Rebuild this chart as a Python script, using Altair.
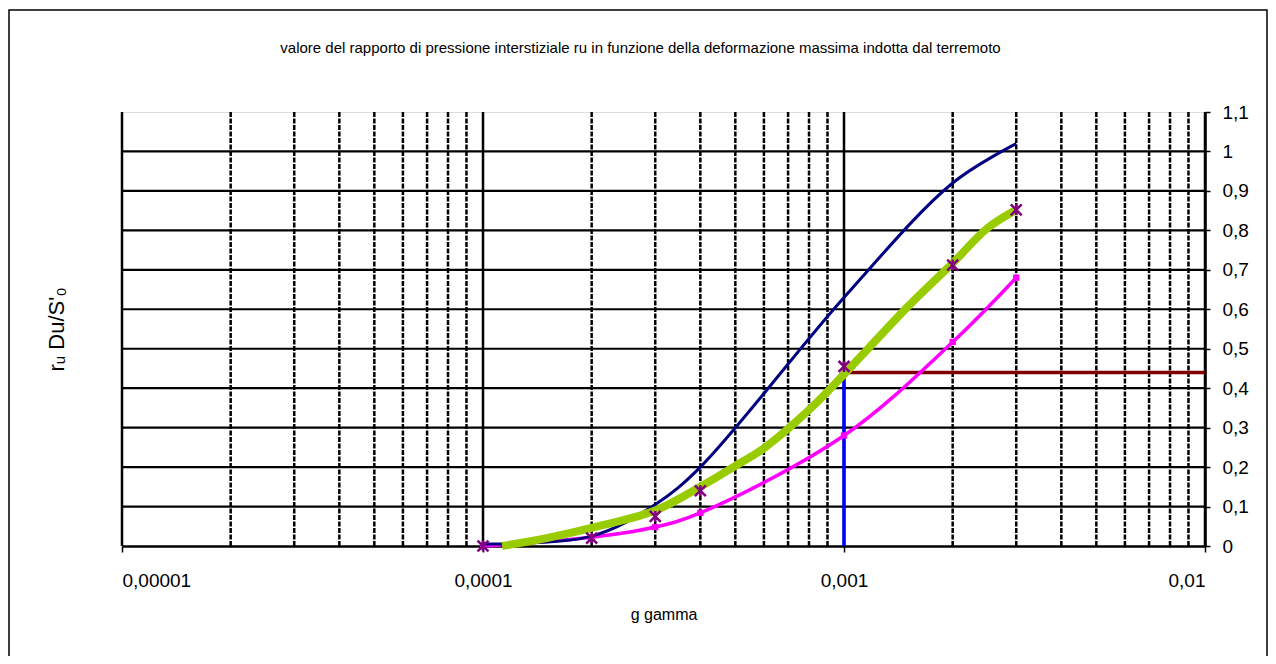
import altair as alt
import pandas as pd

# ---- data ----
x_pts = [0.0001, 0.0002, 0.0003, 0.0004, 0.001, 0.002, 0.003]
navy_y = [0.005, 0.025, 0.105, 0.2, 0.63, 0.92, 1.02]
magenta_y = [0.0, 0.022, 0.048, 0.084, 0.28, 0.517, 0.68]
star_y = [0.0, 0.02, 0.075, 0.14, 0.455, 0.712, 0.852]

green_x = [0.000113, 0.00015, 0.0002, 0.0003, 0.0004, 0.0005, 0.0006,
           0.0008, 0.001, 0.0015, 0.002, 0.0025, 0.003]
green_y = [0.0, 0.02, 0.046, 0.09, 0.15, 0.203, 0.248,
           0.345, 0.435, 0.606, 0.717, 0.806, 0.852]

gamma_sel = 0.001
ru_sel = 0.44

major_x = [0.00001, 0.0001, 0.001, 0.01]
minor_x = [d * m for d in [0.00001, 0.0001, 0.001] for m in range(2, 10)]
y_ticks = [0, 0.1, 0.2, 0.3, 0.4, 0.5, 0.6, 0.7, 0.8, 0.9, 1.0, 1.1]

title = ("valore del rapporto di pressione interstiziale ru in funzione "
         "della deformazione massima indotta dal terremoto")

W, H = 1083, 434
FONT = "Liberation Sans"

xs = alt.Scale(type="log", domain=[0.00001, 0.01])
ys = alt.Scale(domain=[0, 1.1], nice=False)

df_navy = pd.DataFrame({"x": x_pts, "y": navy_y})
df_mag = pd.DataFrame({"x": x_pts, "y": magenta_y})
df_star = pd.DataFrame({"x": x_pts, "y": star_y})
df_green = pd.DataFrame({"x": green_x, "y": green_y})

X = lambda **k: alt.X("x:Q", scale=xs, axis=None, **k)
Y = lambda **k: alt.Y("y:Q", scale=ys, axis=None, **k)

# frame around the whole chart
frame = alt.Chart(pd.DataFrame({"a": [0]})).mark_rect(
    fill=None, stroke="black", strokeWidth=1.5
).encode(x=alt.value(-113), x2=alt.value(W + 62), y=alt.value(-102), y2=alt.value(H + 150))

# left axis: title only
left_axis = alt.Chart(pd.DataFrame({"y": [0, 1.1]})).mark_point(opacity=0).encode(
    y=alt.Y("y:Q", scale=ys, axis=alt.Axis(
        orient="left", title="rᵤ Du/S'₀", labels=False, ticks=False, domain=False,
        grid=False, titleFont=FONT, titleFontSize=22, titleFontWeight="normal",
        titlePadding=54, titleColor="black")),
)

minor = alt.Chart(pd.DataFrame({"x": minor_x})).mark_rule(
    color="black", strokeWidth=2.5, strokeDash=[5, 1.5]
).encode(x=X())

major = alt.Chart(pd.DataFrame({"x": major_x})).mark_rule(
    color="black", strokeWidth=2.5
).encode(x=alt.X("x:Q", scale=xs, axis=alt.Axis(
    orient="bottom", values=major_x, title="g gamma", grid=False,
    labelExpr="replace(format(datum.value, '.5~f'), '.', ',')",
    labelFont=FONT, labelFontSize=19, labelColor="black", labelPadding=19,
    tickSize=6, tickColor="black", tickWidth=1.5,
    domainColor="black", domainWidth=2.5,
    titleFont=FONT, titleFontSize=16, titleFontWeight="normal",
    titlePadding=16, titleColor="black")))

hgrid = alt.Chart(pd.DataFrame({"y": y_ticks})).mark_rule(
    color="black", strokeWidth=2.2
).transform_filter("datum.y > 0.05 && datum.y < 1.05").encode(
    y=alt.Y("y:Q", scale=ys, axis=alt.Axis(
        orient="right", values=y_ticks, grid=False, title=None,
        labelExpr="replace(format(datum.value, '.1~f'), '.', ',')",
        labelFont=FONT, labelFontSize=19, labelColor="black", labelPadding=12,
        labelAlign="left", tickSize=5, tickColor="black", tickWidth=1.5,
        domainColor="black", domainWidth=2.5)))

vline = alt.Chart(pd.DataFrame({"x": [gamma_sel], "y": [0.0], "y2": [ru_sel]})).mark_rule(
    color="#0000FF", strokeWidth=3.5
).encode(x=X(), y=Y(), y2="y2:Q")

hline = alt.Chart(pd.DataFrame({"x": [gamma_sel], "x2": [0.01], "y": [ru_sel]})).mark_rule(
    color="#800000", strokeWidth=3.5
).encode(x=X(), x2="x2:Q", y=Y())

mag_line = alt.Chart(df_mag).mark_line(
    color="#FF00FF", strokeWidth=3.5, interpolate="catmull-rom"
).encode(x=X(), y=Y())
mag_pts = alt.Chart(df_mag).mark_point(
    shape="square", filled=True, color="#FF00FF", size=40, opacity=1
).encode(x=X(), y=Y())

navy_line = alt.Chart(df_navy).mark_line(
    color="#000080", strokeWidth=3, interpolate="catmull-rom"
).encode(x=X(), y=Y())

green_line = alt.Chart(df_green).mark_line(
    color="#99CC00", strokeWidth=8, interpolate="catmull-rom"
).encode(x=X(), y=Y())

stars = alt.Chart(df_star).mark_point(
    shape="M-1,-1L1,1M-1,1L1,-1M0,-1L0,1", filled=False, color="#800080",
    strokeWidth=2.5, size=120, opacity=1
).encode(x=X(), y=Y())

chart = alt.layer(
    frame, left_axis, minor, major, hgrid, vline, hline,
    mag_line, mag_pts, navy_line, green_line, stars
).resolve_axis(x="independent", y="independent").properties(
    width=W, height=H,
    autosize=alt.AutoSizeParams(type="none"),
    padding={"left": 114, "top": 104, "right": 63, "bottom": 110},
    title=alt.TitleParams(title, font=FONT, fontSize=15, fontWeight="normal",
                          color="black", anchor="middle", frame="group",
                          dx=-23, offset=0, dy=47),
).configure_view(stroke="#808080", strokeWidth=2.5).configure(background="white")

chart.save("out.html", embed_options={"renderer": "svg", "actions": False})
